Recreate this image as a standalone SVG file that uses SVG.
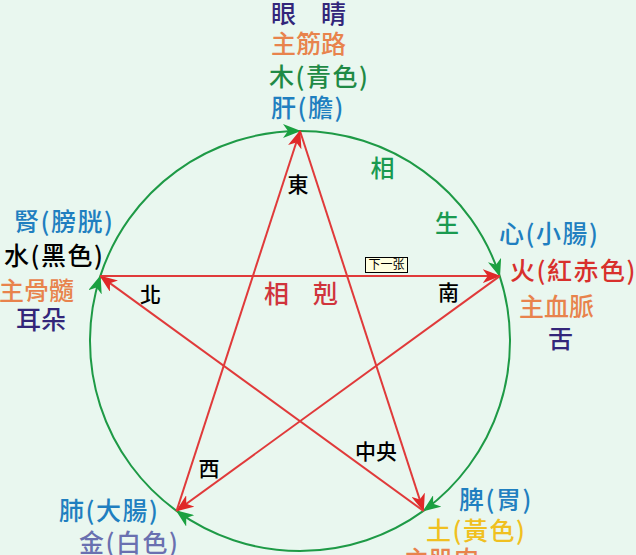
<svg xmlns="http://www.w3.org/2000/svg" width="636" height="555" viewBox="0 0 636 555">
<style>
text{font-family:"Noto Sans CJK TC","Noto Sans CJK SC",sans-serif;font-weight:500;}
.big{font-size:25px;}
.par{letter-spacing:1.5px;}
.mid{font-size:21px;fill:#000;}
.purple{fill:#33267a;}
.orange{fill:#e8834c;}
.green{fill:#1f8a45;}
.blue{fill:#1f7fc0;}
.black{fill:#000;}
.red{fill:#d8302c;}
.metal{fill:#6a70b0;}
.yellow{fill:#f0c020;}
.ke{stroke:#e03a3a;stroke-width:2;fill:none;marker-end:url(#redArrow);}
.sheng{stroke:#1e9a46;stroke-width:2;fill:none;marker-end:url(#greenArrow);}
</style>
<defs>
<marker id="redArrow" viewBox="0 0 18 14" refX="17" refY="7" markerWidth="18" markerHeight="14" markerUnits="userSpaceOnUse" orient="auto">
<path d="M0,0 L18,7 L0,14 L5,7 z" fill="#e02828"/>
</marker>
<marker id="greenArrow" viewBox="0 0 18 14" refX="17" refY="7" markerWidth="18" markerHeight="14" markerUnits="userSpaceOnUse" orient="auto">
<path d="M0,0 L18,7 L0,14 L5,7 z" fill="#1aa040"/>
</marker>
</defs>
<rect width="636" height="555" fill="#e9f7ef"/>

<g id="connectors">
<path class="sheng" d="M300,131 A210,210 0 0 1 499.72,276.11"/>
<path class="sheng" d="M499.72,276.11 A210,210 0 0 1 423.44,510.89"/>
<path class="sheng" d="M423.44,510.89 A210,210 0 0 1 176.56,510.89"/>
<path class="sheng" d="M176.56,510.89 A210,210 0 0 1 100.28,276.11"/>
<path class="sheng" d="M100.28,276.11 A210,210 0 0 1 300,131"/>
<line class="ke" x1="300" y1="131" x2="423.44" y2="510.89"/>
<line class="ke" x1="423.44" y1="510.89" x2="100.28" y2="276.11"/>
<line class="ke" x1="100.28" y1="276.11" x2="499.72" y2="276.11"/>
<line class="ke" x1="499.72" y1="276.11" x2="176.56" y2="510.89"/>
<line class="ke" x1="176.56" y1="510.89" x2="300" y2="131"/>
</g>

<g id="wood">
<text class="big purple" x="271" y="23">眼　睛</text>
<text class="big orange" x="271" y="53">主筋路</text>
<text class="big green par" x="269" y="85.5">木(青色)</text>
<text class="big blue par" x="271" y="117">肝(膽)</text>
</g>

<g id="water">
<text class="big blue par" x="14" y="231">腎(膀胱)</text>
<text class="big black par" x="4" y="264.5">水(黑色)</text>
<text class="big orange" x="-1" y="299.5">主骨髓</text>
<text class="big purple" x="16" y="328.5">耳朵</text>
</g>

<g id="fire">
<text class="big blue par" x="499" y="242.5">心(小腸)</text>
<text class="big red par" x="510" y="279.5">火(紅赤色)</text>
<text class="big orange" x="519" y="315.5">主血脈</text>
<text class="big purple" x="548" y="347.5">舌</text>
</g>

<g id="metal">
<text class="big blue par" x="59" y="519.5">肺(大腸)</text>
<text class="big metal par" x="79" y="551.5">金(白色)</text>
</g>

<g id="earth">
<text class="big blue par" x="459" y="508.5">脾(胃)</text>
<text class="big yellow par" x="426" y="539.5">土(黃色)</text>
<text class="big orange" x="404" y="568.5">主肌肉</text>
</g>

<g id="directions">
<text class="mid" x="298" y="191.5" text-anchor="middle">東</text>
<text class="mid" x="150.5" y="301.5" text-anchor="middle">北</text>
<text class="mid" x="448.5" y="300" text-anchor="middle">南</text>
<text class="mid" x="209" y="475.5" text-anchor="middle">西</text>
<text class="mid" x="376" y="459" text-anchor="middle">中央</text>
</g>

<g id="sheng-label">
<text x="382.5" y="177" text-anchor="middle" style="font-size:24px;fill:#1a9a50">相</text>
<text x="447" y="232" text-anchor="middle" style="font-size:24px;fill:#1a9a50">生</text>
</g>

<g id="ke-label">
<text x="276.5" y="302.5" text-anchor="middle" style="font-size:25px;fill:#d0343c">相</text>
<text x="325.5" y="302.5" text-anchor="middle" style="font-size:25px;fill:#d0343c">剋</text>
</g>

<g id="next-button">
<rect x="365.5" y="257.5" width="42" height="15" fill="#ffffe0" stroke="#000" stroke-width="1"/>
<text x="386.5" y="269" text-anchor="middle" style="font-size:12px;font-weight:400;font-family:'Noto Sans CJK SC',sans-serif;fill:#000">下一张</text>
</g>
</svg>
